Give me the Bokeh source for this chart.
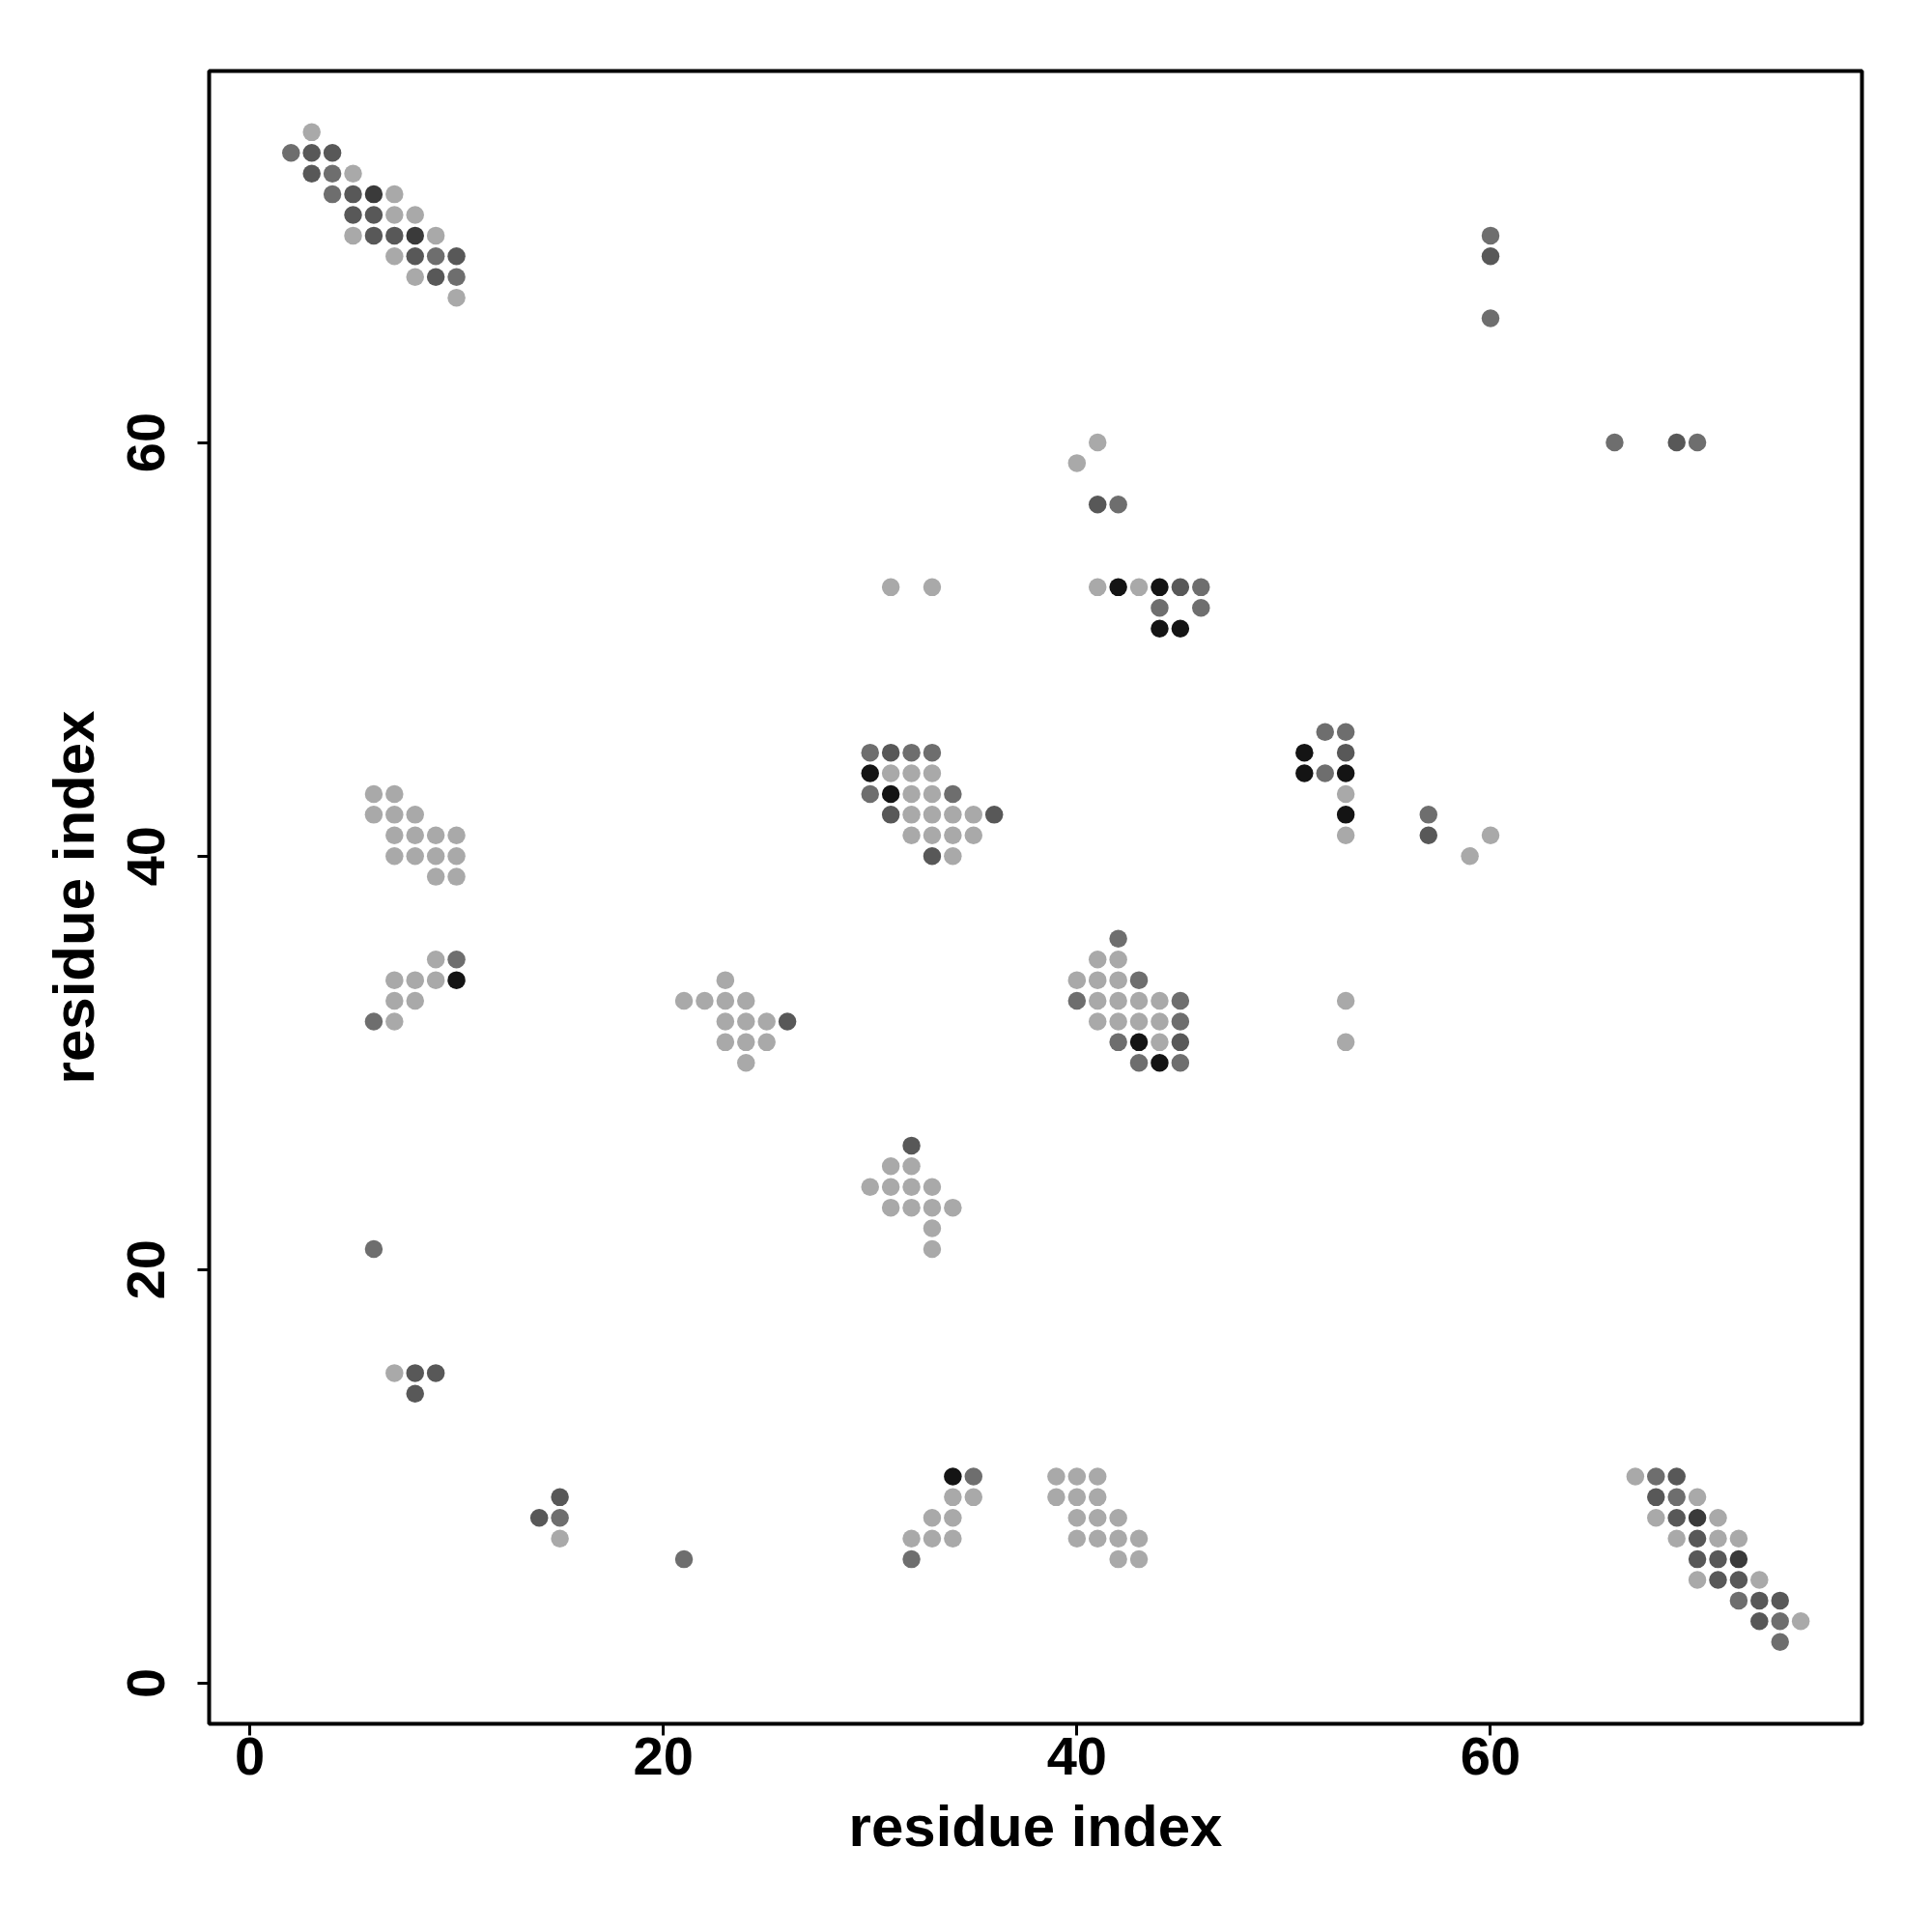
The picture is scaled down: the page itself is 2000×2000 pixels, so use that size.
from bokeh.plotting import figure
from bokeh.models import FixedTicker, Range1d, ColumnDataSource
from bokeh.embed import file_html
from bokeh.resources import INLINE

# contact map: residue i, residue j, shade level (1 = light ... 5 = black)
res_i = [3, 2, 3, 4, 3, 4, 5, 4, 5, 6, 7, 5, 6, 7, 8, 5, 6, 7, 8, 9, 7, 8, 9, 10, 8, 9, 10, 10,
         60, 60, 60, 66, 69, 70,
         41, 40, 41, 42, 31, 33, 41, 42, 43, 44, 45, 46, 44, 46, 44, 45,
         30, 31, 32, 33, 30, 31, 32, 33, 30, 31, 32, 33, 34, 31, 32, 33, 34, 35, 36, 32, 33, 34, 35, 33, 34,
         52, 53, 51, 53, 51, 52, 53, 53, 53, 57, 53, 57, 60, 59,
         6, 7, 6, 7, 8, 7, 8, 9, 10, 7, 8, 9, 10, 9, 10, 9, 10, 7, 8, 9, 10, 7, 8, 6, 7,
         23, 21, 22, 23, 24, 23, 24, 25, 26, 23, 24, 25, 24,
         42, 41, 42, 40, 41, 42, 43, 40, 41, 42, 43, 44, 45, 41, 42, 43, 44, 45, 42, 43, 44, 45, 43, 44, 45,
         53, 53,
         32, 31, 32, 30, 31, 32, 33, 31, 32, 33, 34, 33, 33,
         6, 7, 8, 9, 8, 15, 14, 15, 15, 21,
         34, 35, 34, 35, 33, 34, 32, 33, 34, 32,
         39, 40, 41, 39, 40, 41, 40, 41, 42, 40, 41, 42, 43, 42, 43,
         67, 68, 69, 68, 69, 70, 68, 69, 70, 71, 69, 70, 71, 72, 70, 71, 72, 70, 71, 72, 73, 72, 73, 74, 73, 74, 75, 74]
res_j = [75, 74, 74, 74, 73, 73, 73, 72, 72, 72, 72, 71, 71, 71, 71, 70, 70, 70, 70, 70, 69, 69, 69, 69, 68, 68, 68, 67,
         70, 69, 66, 60, 60, 60,
         60, 59, 57, 57, 53, 53, 53, 53, 53, 53, 53, 53, 52, 52, 51, 51,
         45, 45, 45, 45, 44, 44, 44, 44, 43, 43, 43, 43, 43, 42, 42, 42, 42, 42, 42, 41, 41, 41, 41, 40, 40,
         46, 46, 45, 45, 44, 44, 44, 43, 42, 42, 41, 41, 41, 40,
         43, 43, 42, 42, 42, 41, 41, 41, 41, 40, 40, 40, 40, 39, 39, 35, 35, 34, 34, 34, 34, 33, 33, 32, 32,
         34, 33, 33, 33, 33, 32, 32, 32, 32, 31, 31, 31, 30,
         36, 35, 35, 34, 34, 34, 34, 33, 33, 33, 33, 33, 33, 32, 32, 32, 32, 32, 31, 31, 31, 31, 30, 30, 30,
         33, 31,
         26, 25, 25, 24, 24, 24, 24, 23, 23, 23, 23, 22, 21,
         21, 15, 15, 15, 14, 9, 8, 8, 7, 6,
         10, 10, 9, 9, 8, 8, 7, 7, 7, 6,
         10, 10, 10, 9, 9, 9, 8, 8, 8, 7, 7, 7, 7, 6, 6,
         10, 10, 10, 9, 9, 9, 8, 8, 8, 8, 7, 7, 7, 7, 6, 6, 6, 5, 5, 5, 5, 4, 4, 4, 3, 3, 3, 2]
shade = [1, 2, 3, 3, 3, 2, 1, 2, 3, 4, 1, 3, 3, 1, 1, 1, 3, 3, 4, 1, 1, 3, 2, 3, 1, 3, 2, 1,
         2, 3, 2, 2, 3, 2,
         1, 1, 3, 2, 1, 1, 1, 5, 1, 5, 3, 2, 2, 2, 5, 5,
         2, 3, 2, 2, 5, 1, 1, 1, 2, 5, 1, 1, 2, 3, 1, 1, 1, 1, 3, 1, 1, 1, 1, 3, 1,
         2, 2, 5, 3, 5, 2, 5, 1, 5, 2, 1, 3, 1, 1,
         1, 1, 1, 1, 1, 1, 1, 1, 1, 1, 1, 1, 1, 1, 1, 1, 2, 1, 1, 1, 5, 1, 1, 2, 1,
         1, 1, 1, 1, 1, 1, 1, 1, 3, 1, 1, 1, 1,
         2, 1, 1, 1, 1, 1, 2, 2, 1, 1, 1, 1, 2, 1, 1, 1, 1, 2, 2, 5, 1, 3, 2, 5, 2,
         1, 1,
         3, 1, 1, 1, 1, 1, 1, 1, 1, 1, 1, 1, 1,
         2, 1, 3, 3, 3, 3, 3, 2, 1, 2,
         5, 2, 1, 1, 1, 1, 1, 1, 1, 2,
         1, 1, 1, 1, 1, 1, 1, 1, 1, 1, 1, 1, 1, 1, 1,
         1, 2, 3, 3, 2, 1, 1, 3, 4, 1, 1, 3, 1, 1, 3, 3, 4, 1, 3, 3, 1, 2, 3, 3, 3, 2, 1, 2]
shade_colors = {1: "#a9a9a9", 2: "#6e6e6e", 3: "#585858", 4: "#3a3a3a", 5: "#141414"}
ticks = [0, 20, 40, 60]

src = ColumnDataSource(dict(x=res_i, y=res_j, c=[shade_colors[s] for s in shade]))

p = figure(frame_width=1711, frame_height=1711,
           x_range=Range1d(-1.96, 77.96), y_range=Range1d(-1.96, 77.96),
           output_backend="svg", toolbar_location=None,
           min_border_left=216, min_border_top=73, min_border_right=40, min_border_bottom=170)
p.background_fill_color = "white"
p.border_fill_color = "white"
p.outline_line_color = "black"
p.outline_line_width = 4
p.xgrid.visible = False
p.ygrid.visible = False

p.scatter("x", "y", source=src, size=18.5, fill_color="c", line_color=None)

for ax in (p.xaxis[0], p.yaxis[0]):
    ax.ticker = FixedTicker(ticks=ticks)
    ax.axis_line_color = None
    ax.major_tick_out = 12
    ax.major_tick_in = 0
    ax.major_tick_line_width = 3
    ax.minor_tick_line_color = None
    ax.major_label_text_font = "Liberation Sans"
    ax.major_label_text_font_style = "bold"
    ax.major_label_text_font_size = "56px"
    ax.major_label_text_color = "black"
    ax.axis_label = "residue index"
    ax.axis_label_text_font = "Liberation Sans"
    ax.axis_label_text_font_style = "bold"
    ax.axis_label_text_font_size = "60px"
    ax.axis_label_text_color = "black"

p.xaxis.major_label_standoff = 2
p.xaxis.axis_label_standoff = 17
p.yaxis.major_label_orientation = "vertical"
p.yaxis.major_label_standoff = 34
p.yaxis.axis_label_standoff = 20

open("out.html", "w").write(file_html(p, INLINE))
